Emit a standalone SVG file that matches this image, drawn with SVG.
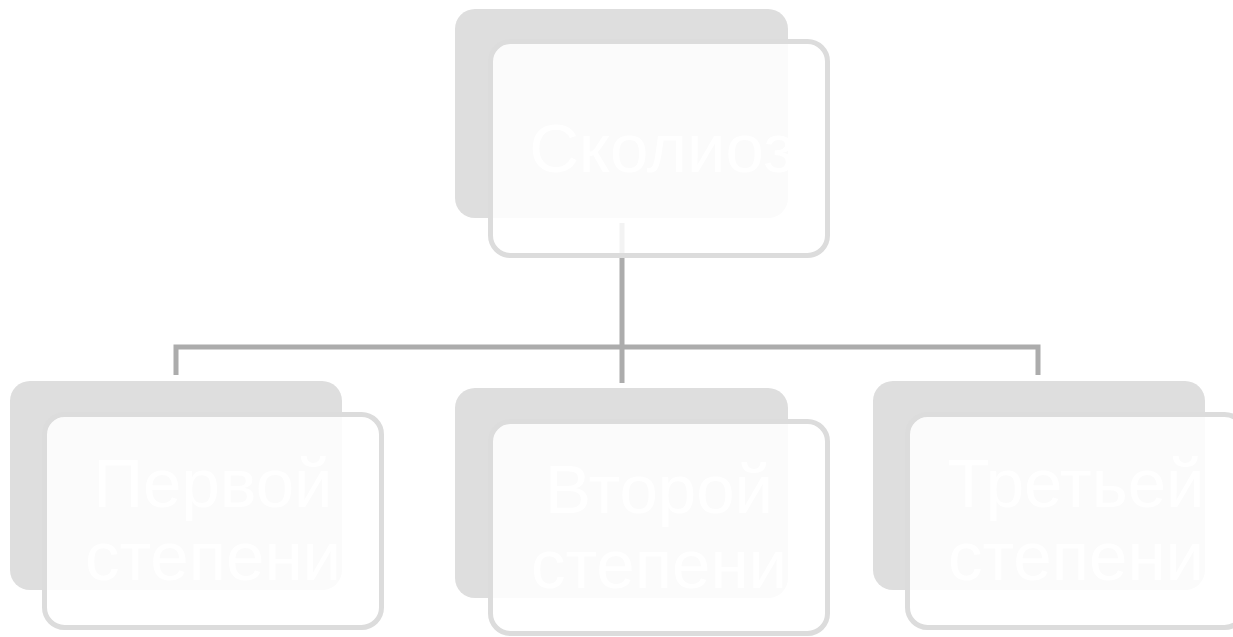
<svg xmlns="http://www.w3.org/2000/svg" width="1233" height="637" viewBox="0 0 1233 637">
<style>
.back{fill:#dedede}
.front{fill:#ffffff;fill-opacity:0.86;stroke:#dcdcdc;stroke-width:5}
.lbl{font-family:"Liberation Sans",Arial,sans-serif;font-size:69px;fill:#ffffff;text-anchor:middle}
.conn{stroke:#acacac;stroke-width:5;fill:none}
</style>
<rect width="1233" height="637" fill="#ffffff"/>
<g id="connectors">
<path class="conn" d="M622,223 V383"/>
<path class="conn" d="M176,375 V347 H1038 V375"/>
</g>
<g id="node-root">
<rect class="back" x="455" y="9" width="333" height="209" rx="20"/>
<rect class="front" x="490.5" y="41.5" width="337" height="214" rx="20"/>
<text class="lbl" x="662" y="172">Сколиоз</text>
</g>
<g id="node-first">
<rect class="back" x="10" y="381" width="332" height="209" rx="20"/>
<rect class="front" x="44.5" y="414.5" width="337" height="213" rx="20"/>
<text class="lbl" x="213" y="507">Первой</text>
<text class="lbl" x="213" y="580">степени</text>
</g>
<g id="node-second">
<rect class="back" x="455" y="388" width="333" height="210" rx="20"/>
<rect class="front" x="490.5" y="421.5" width="337" height="212" rx="20"/>
<text class="lbl" x="659" y="513">Второй</text>
<text class="lbl" x="659" y="588">степени</text>
</g>
<g id="node-third">
<rect class="back" x="873" y="381" width="332" height="209" rx="20"/>
<rect class="front" x="907.5" y="414.5" width="337" height="213" rx="20"/>
<text class="lbl" x="1076" y="507">Третьей</text>
<text class="lbl" x="1076" y="580">степени</text>
</g>
</svg>
